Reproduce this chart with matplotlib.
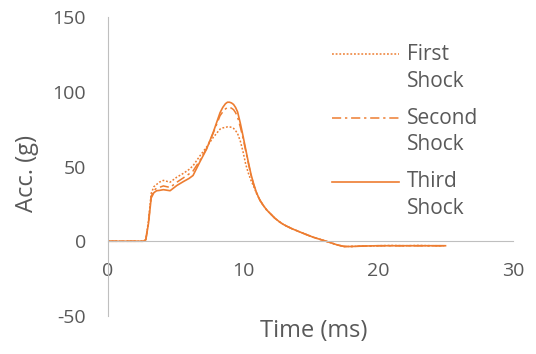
import matplotlib
matplotlib.use("Agg")
import matplotlib.pyplot as plt
from matplotlib.transforms import Affine2D

time_ms = [0, 1, 2, 2.6, 2.8, 3.0, 3.2, 3.4, 3.6, 3.8, 4.1, 4.6, 5.1, 5.6, 6.0,
           6.3, 6.8, 7.3, 7.8, 8.3, 8.5, 8.7, 8.85, 9.0, 9.15, 9.3, 9.45, 9.6, 9.8, 10.0,
           10.2, 10.4, 10.6, 10.8, 11.0, 11.25, 11.5, 11.75, 12.0, 12.35, 12.7, 13.0, 13.3,
           13.65, 14.0, 14.6, 15.2, 15.8, 16.4, 17.0, 17.5, 18, 19, 20, 21, 22, 23, 24, 25]

first_shock = [0, 0, 0, 0, 1, 14, 32, 36.5, 38, 39.5, 40.7, 39.5, 42.9, 45.5, 48,
               50.5, 57, 63, 69.5, 75, 75.8, 76.2, 76.5, 76.5, 76.2, 75.5, 74, 72, 67, 60,
               51.5, 45.5, 40.5, 36.5, 32, 27.5, 24, 21, 18.7, 15.5, 13, 11.2, 9.8,
               8.3, 7, 4.8, 2.7, 1, -0.7, -2.5, -3.5, -3.5, -3.2, -3, -2.8, -3, -2.8, -3, -3]

second_shock = [0, 0, 0, 0, 1, 13, 30, 34, 35.5, 36, 37, 36, 39.5, 42.5, 45,
                47, 54, 62, 72.5, 84, 86.5, 88.5, 89.5, 89.5, 89, 88, 86, 83, 76.5, 69,
                60.5, 52, 44, 37.5, 32.5, 27.5, 24, 21, 18.7, 15.5, 13, 11.2, 9.8,
                8.3, 7, 4.8, 2.7, 1, -0.7, -2.5, -3.5, -3.5, -3.2, -3, -3, -3, -3, -3, -3]

third_shock = [0, 0, 0, 0, 1, 12, 29, 32.5, 33.8, 34, 34.5, 33.8, 37.3, 40, 42,
               44, 53, 61.6, 73, 86, 89.5, 92, 93, 93, 92.5, 91.5, 89.5, 86.5, 79, 70.5,
               61.5, 52.7, 44.5, 38, 32.5, 27.5, 24, 21, 18.7, 15.5, 13, 11.2, 9.8,
               8.3, 7, 4.8, 2.7, 1, -0.7, -2.5, -3.5, -3.5, -3.2, -3, -3, -3, -3, -3, -3]

series_labels = ["First\nShock", "Second\nShock", "Third\nShock"]
x_ticks = [0, 10, 20, 30]
y_ticks = [-50, 0, 50, 100, 150]

plt.rcParams['font.family'] = ['Open Sans', 'DejaVu Sans']
plt.rcParams['axes.unicode_minus'] = False
W, H = 536, 354
fig = plt.figure(figsize=(W / 100, H / 100), dpi=100)
ax = fig.add_axes([108 / W, 1 - 316 / H, (513 - 108) / W, (316 - 17) / H])

color = '#ED7D31'
ax.plot(time_ms, first_shock, color=color, lw=1.1, linestyle=(0, (1.2, 1.2)), label=series_labels[0])
ax.plot(time_ms, second_shock, color=color, lw=1.1, linestyle=(0, (6, 2.5, 1.5, 2.5)), label=series_labels[1])
ax.plot(time_ms, third_shock, color=color, lw=1.2, linestyle='-', label=series_labels[2])

ax.set_xlim(0, 30)
ax.set_ylim(-50, 150)
ax.set_xticks(x_ticks)
ax.set_yticks(y_ticks)

grey = '#595959'
for s in ['top', 'right']:
    ax.spines[s].set_visible(False)
ax.spines['bottom'].set_position(('data', 0))
ax.spines['bottom'].set_color('#BFBFBF')
ax.spines['left'].set_color('#BFBFBF')
ax.tick_params(axis='both', length=0, labelsize=14, labelcolor=grey)
ax.tick_params(axis='y', pad=16)
ax.tick_params(axis='x', pad=15)

fig.text(314 / W, 1 - 331 / H, 'Time (ms)', ha='center', va='center', fontsize=17, color=grey)
fig.text(27 / W, 1 - 173 / H, 'Acc. (g)', ha='center', va='center', rotation=90, fontsize=17, color=grey)

fs = 15
leg = ax.legend(loc='upper left', bbox_to_anchor=(332 / W, 1 - 44 / H), bbox_transform=fig.transFigure,
                frameon=False, fontsize=fs, handlelength=3.2, handletextpad=0.4, labelspacing=0.75,
                borderpad=0, borderaxespad=0)
for t in leg.get_texts():
    t.set_color(grey)
    t.set_linespacing(1.37)

fig.canvas.draw()
fs_px = fs * fig.dpi / 72
for line, txt in zip(leg.get_lines(), leg.get_texts()):
    bb = txt.get_window_extent()
    tr = line.get_transform()
    cur = tr.transform((0, line.get_ydata()[0]))[1]
    target = bb.y1 - 0.5 * fs_px
    line.set_transform(tr + Affine2D().translate(0, target - cur))

fig.savefig('out.png', dpi=100)
